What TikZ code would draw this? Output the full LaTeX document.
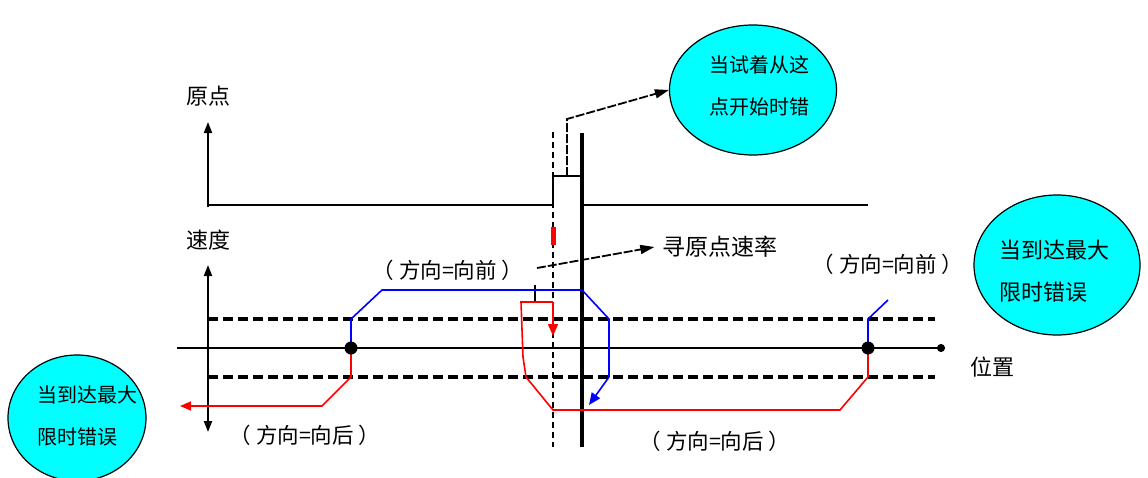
\documentclass[tikz,border=0pt]{standalone}
\usepackage{fontspec}
\newfontfamily\cjk{Noto Sans CJK SC}
\usetikzlibrary{arrows.meta,shapes.geometric}
\definecolor{aqua}{RGB}{0,255,255}
\definecolor{pblue}{RGB}{0,0,255}
\definecolor{pred}{RGB}{255,0,0}
\begin{document}
\begin{tikzpicture}[x=1pt,y=-1pt,
  lbl/.style={font=\cjk\fontsize{20}{24}\selectfont, inner sep=0pt},
  big/.style={font=\cjk\fontsize{22}{26}\selectfont},
  dir/.style={font=\cjk\fontsize{21.5}{26}\selectfont},
  ell/.style={ellipse, draw=black, line width=1.2pt, fill=aqua, inner sep=0pt},
  axis/.style={line width=2pt, black},
  tip/.style={-{Triangle[length=11pt,width=8pt]}},
  dash3/.style={line width=3.2pt, dash pattern=on 10pt off 5pt},
  blu/.style={pblue, line width=1.6pt},
  rd/.style={pred, line width=1.6pt}]
\useasboundingbox (0,0) rectangle (1148,477);
% ellipses
\node[ell, minimum width=167pt, minimum height=130pt] (e1) at (753,90) {};
\node[ell, minimum width=166pt, minimum height=140pt] (e2) at (1057,265) {};
\node[ell, minimum width=138pt, minimum height=126pt] (e3) at (77,418) {};
\node[lbl, anchor=west] (t1a) at (709,65) {当试着从这};
\node[lbl, anchor=west] (t1b) at (709,107) {点开始时错};
\node[lbl, big, anchor=west] (t2a) at (999,250) {当到达最大};
\node[lbl, big, anchor=west] (t2b) at (999,292) {限时错误};
\node[lbl, anchor=west] (t3a) at (37,395) {当到达最大};
\node[lbl, anchor=west] (t3b) at (37,437) {限时错误};
% labels
\node[lbl, big] (yuandian) at (208,96) {原点};
\node[lbl, big] (sudu) at (208,240) {速度};
\node[lbl, big] (weizhi) at (992,367) {位置};
\node[lbl, font=\cjk\fontsize{23}{26}\selectfont] (rate) at (720,247) {寻原点速率};
\node[lbl, dir] (f1) at (448,270) {（\hspace{5pt}方向=向前\hspace{5pt}）};
\node[lbl, dir] (f2) at (888,264) {（\hspace{5pt}方向=向前\hspace{5pt}）};
\node[lbl, dir] (b1) at (305,435) {（\hspace{5pt}方向=向后\hspace{5pt}）};
\node[lbl, dir] (b2) at (715,441) {（\hspace{5pt}方向=向后\hspace{5pt}）};
% coordinates
\coordinate (o0) at (208,207);
\coordinate (o1) at (208,122);
\coordinate (v0) at (208,265);
\coordinate (v1) at (208,432);
\coordinate (p0) at (177,348);
\coordinate (p1) at (945,348);
% origin signal
\draw[axis, tip] (o0) -- (o1);
\draw[line width=2pt] (208,205) -- (553,205) -- (553,176) -- (582,176);
\draw[line width=2pt] (582,205) -- (868,205);
\coordinate (s0) at (567,176);
\coordinate (s1) at (567,119);
\draw[line width=1.8pt, dash pattern=on 9pt off 2pt, -{Triangle[length=14pt,width=9pt]}] (s0) -- (s1) -- (e1.west);
% velocity axis
\draw[axis, {Triangle[length=11pt,width=8pt]}-{Triangle[length=11pt,width=8pt]}] (v0) -- (v1);
\draw[line width=1.6pt, -{Circle[length=8pt]}] (p0) -- (p1);
\draw[dash3] (208,319) -- (935,319);
\draw[dash3] (208,377) -- (935,377);
% thick vertical and dashed vertical
\draw[line width=3.6pt] (582,133) -- (582,447);
\draw[line width=1.5pt, dash pattern=on 6pt off 4pt] (553,132) -- (553,447);
\draw[pred, line width=5pt] (553,227) -- (553,245);
% homing rate arrow
\coordinate (r0) at (535,303);
\coordinate (r1) at (535,285);
\coordinate (r2) at (537,268);
\draw[line width=1.8pt] (r0) -- (r1);
\draw[line width=1.8pt, dash pattern=on 9pt off 2pt, -{Triangle[length=14pt,width=9pt]}] (r2) -- ([xshift=-8pt]rate.west);
% blue path forward
\draw[blu] (351,348) -- (351,319) -- (382,290) -- (582,290) -- (609,319) -- (609,377);
\draw[blu, -{Triangle[length=12pt,width=10pt]}] (609,377) -- (589,405);
\draw[blu] (868,348) -- (868,319) -- (888,300);
% red path backward
\draw[rd, -{Triangle[length=11pt,width=9pt]}] (351,348) -- (351,377) -- (322,406) -- (180,406);
\draw[rd] (868,348) -- (868,377) -- (840,410) -- (553,410) -- (526,377) -- (523,357) -- (521,302) -- (553,302);
\draw[rd, -{Triangle[length=12pt,width=10pt]}] (553,302) -- (553,336);
% dots
\fill (351,348) circle (6.5pt);
\fill (868,348) circle (6.5pt);
\end{tikzpicture}
\end{document}
